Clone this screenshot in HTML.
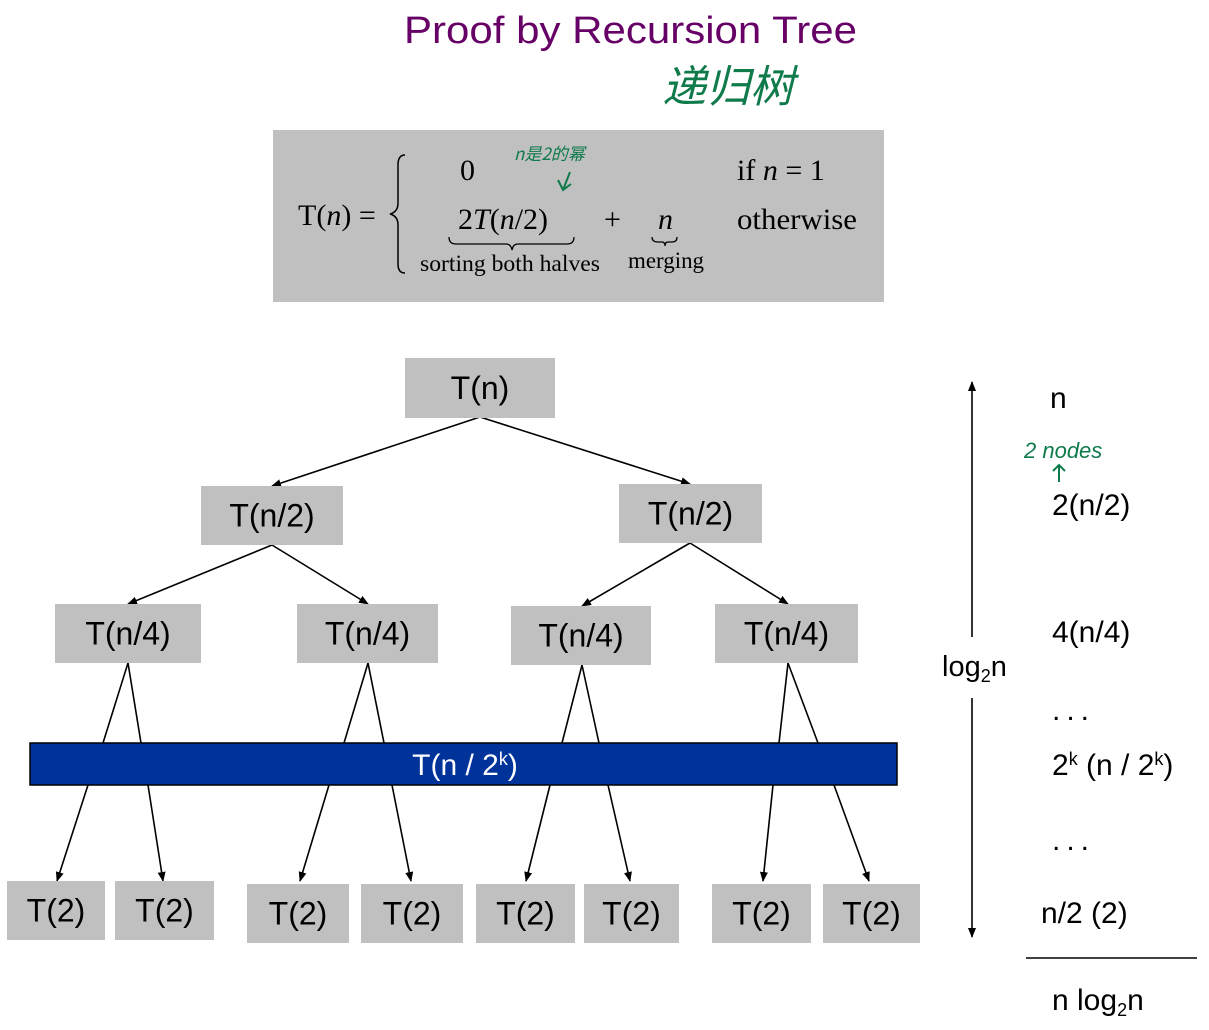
<!DOCTYPE html>
<html><head><meta charset="utf-8">
<style>
html,body{margin:0;padding:0;background:#fff;width:1209px;height:1030px;overflow:hidden}
svg{display:block}
.sans{font-family:"Liberation Sans","Noto Sans CJK SC",sans-serif}
.serif{font-family:"Liberation Serif",serif}
</style></head>
<body>
<svg id="d" width="1209" height="1030" viewBox="0 0 1209 1030" xmlns="http://www.w3.org/2000/svg">
<defs>
<marker id="ah" markerWidth="10" markerHeight="8" refX="9" refY="4" orient="auto" markerUnits="userSpaceOnUse">
<path d="M0,0 L10,4 L0,8 z" fill="#000"/>
</marker>
</defs>
<text x="404" y="43" class="sans" font-size="38" fill="#660066" textLength="453" lengthAdjust="spacingAndGlyphs">Proof by Recursion Tree</text>
<text x="662" y="102" font-family="'Noto Sans CJK SC',sans-serif" font-size="44" fill="#0f7a4a" font-style="italic" textLength="132" lengthAdjust="spacingAndGlyphs">递归树</text>

<g>
<rect x="273" y="130" width="611" height="172" fill="#c0c0c0"/>
<text x="298" y="225" class="serif" font-size="30">T(<tspan font-style="italic">n</tspan>) =</text>
<path d="M405,155 Q398,155 398,165 L398,203 Q398,212 390,214 Q398,216 398,225 L398,264 Q398,273 405,273" fill="none" stroke="#000" stroke-width="1.5"/>
<text x="460" y="180" class="serif" font-size="30">0</text>
<text x="458" y="229" class="serif" font-size="30">2<tspan font-style="italic">T</tspan>(<tspan font-style="italic">n</tspan>/2)</text>
<path d="M449,237 Q449,244 456,244 L506,244 Q511,244 512,250 Q513,244 518,244 L567,244 Q574,244 574,237" fill="none" stroke="#000" stroke-width="1.3"/>
<text x="420" y="271" class="serif" font-size="23" textLength="180" lengthAdjust="spacingAndGlyphs">sorting both halves</text>
<text x="604" y="229" class="serif" font-size="30">+</text>
<text x="658" y="229" class="serif" font-size="30" font-style="italic">n</text>
<path d="M652,237 Q652,242 658,242 L662,242 Q665,242 665,246 Q665,242 668,242 L672,242 Q677,242 677,237" fill="none" stroke="#000" stroke-width="1.3"/>
<text x="628" y="268" class="serif" font-size="23" textLength="76" lengthAdjust="spacingAndGlyphs">merging</text>
<text x="737" y="180" class="serif" font-size="30">if  <tspan font-style="italic">n</tspan> = 1</text>
<text x="737" y="229" class="serif" font-size="30" textLength="120" lengthAdjust="spacingAndGlyphs">otherwise</text>
<text x="514" y="160" font-family="'Noto Sans CJK SC',sans-serif" font-size="17" fill="#0f7a4a" font-style="italic">n是2的幂</text>
<path d="M570,172 L563,190 M558,180 L563,190 L571,184" stroke="#0f7a4a" stroke-width="2" fill="none"/>
</g>

<g id="tree" stroke="#000" stroke-width="1.6" fill="none"></g>
<g id="nodes"></g>

<g>
<line x1="972" y1="637" x2="972" y2="382" stroke="#000" stroke-width="1.6" marker-end="url(#ah)"/>
<line x1="972" y1="698" x2="972" y2="937" stroke="#000" stroke-width="1.6" marker-end="url(#ah)"/>
<text x="942" y="676" class="sans" font-size="29">log<tspan font-size="18" dy="6">2</tspan><tspan dy="-6">n</tspan></text>
</g>
<g class="sans" font-size="30">
<text x="1050" y="408">n</text>
<text x="1052" y="515">2(n/2)</text>
<text x="1052" y="642">4(n/4)</text>
<text x="1052" y="720" letter-spacing="6">...</text>
<text x="1052" y="775">2<tspan font-size="18" dy="-10">k</tspan><tspan dy="10"> (n / 2</tspan><tspan font-size="18" dy="-10">k</tspan><tspan dy="10">)</tspan></text>
<text x="1052" y="850" letter-spacing="6">...</text>
<text x="1041" y="923">n/2 (2)</text>
<line x1="1026" y1="958" x2="1197" y2="958" stroke="#000" stroke-width="1.6"/>
<text x="1052" y="1010">n log<tspan font-size="18" dy="6">2</tspan><tspan dy="-6">n</tspan></text>
</g>
<g>
<text x="1024" y="458" font-family="'Liberation Sans',sans-serif" font-style="italic" font-size="22" fill="#0f7a4a">2 nodes</text>
<path d="M1059,482 L1059,465 M1053,471 L1059,465 L1065,471" stroke="#0f7a4a" stroke-width="2" fill="none"/>
</g>
</svg>
<script>
const NS='http://www.w3.org/2000/svg';
const tree=document.getElementById('tree'),nodes=document.getElementById('nodes');
const boxes=[
 ['T(n)',405,358,150,60],
 ['T(n/2)',201,486,142,59],['T(n/2)',619,484,143,59],
 ['T(n/4)',55,604,146,59],['T(n/4)',297,604,141,59],['T(n/4)',511,606,140,59],['T(n/4)',715,604,143,59],
 ['T(2)',7,881,98,59],['T(2)',115,881,99,59],['T(2)',247,884,102,59],['T(2)',361,884,102,59],
 ['T(2)',476,884,99,59],['T(2)',584,884,95,59],['T(2)',712,884,99,59],['T(2)',823,884,97,59]
];
const edges=[
 [480,417,272,486],[480,417,690,484],
 [272,545,128,604],[272,545,368,604],[690,543,582,606],[690,543,788,604]
];
const legs=[
 [128,663,103,141,88,148,57,163],
 [368,663,344,384,329,392,300,411],
 [582,665,562,599,550,608,526,630],
 [788,663,779,818,773,834,763,869]
];
function line(x1,y1,x2,y2,arrow){
 const l=document.createElementNS(NS,'line');
 l.setAttribute('x1',x1);l.setAttribute('y1',y1);l.setAttribute('x2',x2);l.setAttribute('y2',y2);
 if(arrow)l.setAttribute('marker-end','url(#ah)');
 
 
 tree.appendChild(l);
}
edges.forEach(e=>line(e[0],e[1],e[2],e[3],true));
legs.forEach(g=>{
 line(g[0],g[1],g[2],743,false);line(g[0],g[1],g[3],743,false);
 line(g[4],785,g[6],881,true);line(g[5],785,g[7],881,true);
});
boxes.forEach(b=>{
 const gg=document.createElementNS(NS,'g');
 
 
 const r=document.createElementNS(NS,'rect');
 r.setAttribute('x',b[1]);r.setAttribute('y',b[2]);r.setAttribute('width',b[3]);r.setAttribute('height',b[4]);r.setAttribute('fill','#c0c0c0');
 const t=document.createElementNS(NS,'text');
 t.setAttribute('x',b[1]+b[3]/2);t.setAttribute('y',b[2]+b[4]/2+11);
 t.setAttribute('text-anchor','middle');t.setAttribute('font-size','32');
 t.setAttribute('font-family','Liberation Sans, sans-serif');
 t.textContent=b[0];
 gg.appendChild(r);gg.appendChild(t);nodes.appendChild(gg);
});
const bar=document.createElementNS(NS,'g');


bar.innerHTML='<rect x="30" y="743" width="867" height="42" fill="#003399" stroke="#000" stroke-width="1.5"/><text x="465" y="775" text-anchor="middle" fill="#fff" font-size="30" font-family="Liberation Sans, sans-serif">T(n / 2<tspan font-size="18" dy="-10">k</tspan><tspan dy="10">)</tspan></text>';
nodes.appendChild(bar);
</script>
</body></html>
